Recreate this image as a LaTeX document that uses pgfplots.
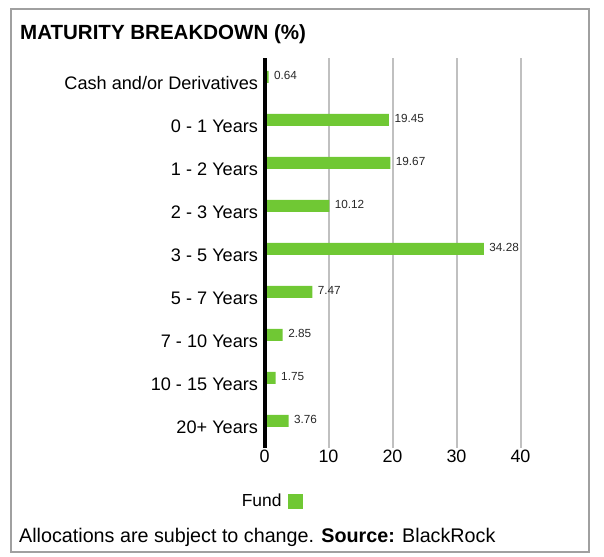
\documentclass[border=0pt]{standalone}
\usepackage{pgfplots}
\pgfplotsset{compat=1.18}
\usepackage{pgfplotstable}
\usepackage{fontspec}
\setmainfont{Liberation Sans}
\definecolor{fundgreen}{RGB}{112,200,52}
\definecolor{gridgray}{RGB}{192,192,192}
\definecolor{bordergray}{RGB}{160,160,160}
\definecolor{darktext}{RGB}{40,40,40}
\pgfplotstableread{
y x lab
0 0.64 0.64
1 19.45 19.45
2 19.67 19.67
3 10.12 10.12
4 34.28 34.28
5 7.47 7.47
6 2.85 2.85
7 1.75 1.75
8 3.76 3.76
}\maturity
\begin{document}
\begin{tikzpicture}
\path[use as bounding box] (0,0) rectangle (604bp,557bp);
\draw[bordergray, line width=1.5bp] (11bp,5bp) rectangle (589bp,548bp);
\node[anchor=base west, inner sep=0pt] at (20bp,517.5bp) {\fontsize{20.6}{24}\selectfont\bfseries MATURITY BREAKDOWN (\%)};
\node[anchor=base west, inner sep=0pt] at (19bp,15bp) {\fontsize{19.8}{23}\selectfont Allocations are subject to change. \textbf{Source:} BlackRock};
\begin{axis}[
  at={(264.5bp,109bp)}, anchor=south west,
  scale only axis, width=256bp, height=390bp,
  xbar, bar width=12bp,
  xmin=0, xmax=40,
  ymin=-0.44, ymax=8.63, y dir=reverse,
  ytick={0,1,2,3,4,5,6,7,8},
  yticklabels={Cash and/or Derivatives,0 - 1 Years,1 - 2 Years,2 - 3 Years,3 - 5 Years,5 - 7 Years,7 - 10 Years,10 - 15 Years,20+ Years},
  xtick={0,10,20,30,40},
  /pgf/number format/assume math mode=true,
  xmajorgrids, grid style={draw=gridgray, line width=2bp},
  major tick length=0pt,
  axis line style={draw=none},
  yticklabel style={font=\fontsize{18.2}{21}\selectfont, yshift=-6bp, xshift=-3bp},
  xticklabel style={font=\fontsize{18}{21}\selectfont, yshift=2bp},
  legend style={at={(0.026,-0.136)}, anchor=center, draw=none, fill=none, font=\fontsize{17.5}{21}\selectfont},
  legend plot pos=right,
  clip=false,
]
\addplot[fill=fundgreen, draw=none,
  point meta=explicit symbolic,
  nodes near coords,
  nodes near coords style={font=\fontsize{11.8}{14}\selectfont, text=darktext, anchor=west, xshift=2bp, yshift=1.5bp},
  legend image code/.code={\path (0bp,0bp); \fill[fundgreen] (4bp,-7.5bp) rectangle (19bp,7.5bp);}
] table[x=x, y=y, meta=lab] {\maturity};
\addlegendentry{Fund}
\draw[black, line width=4bp] (rel axis cs:0,0) -- (rel axis cs:0,1);
\end{axis}
\end{tikzpicture}
\end{document}
